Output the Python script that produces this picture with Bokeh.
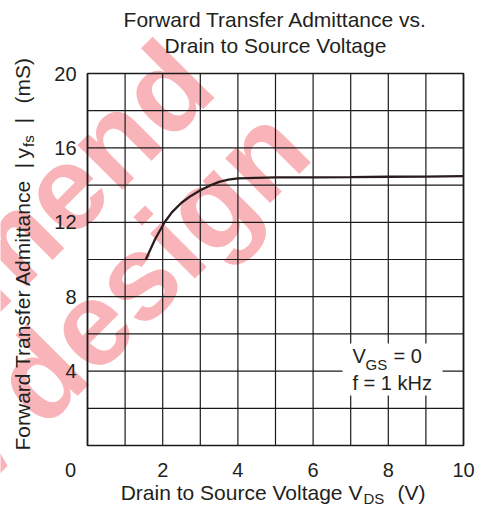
import math
from bokeh.plotting import figure
from bokeh.models import Range1d, Label, ColumnDataSource
from bokeh.core.properties import value
from bokeh.embed import file_html
from bokeh.resources import INLINE

# ---- data ----
vds = [1.55, 1.8, 2.05, 2.25, 2.5, 2.75, 3.0, 3.25, 3.5, 3.75, 4.0, 4.5, 5.0, 6.0, 7.0, 8.0, 9.0, 10.0]
yfs = [10.0, 11.1, 12.0, 12.55, 13.05, 13.42, 13.72, 13.97, 14.17, 14.3, 14.36, 14.39, 14.41,
       14.42, 14.43, 14.45, 14.46, 14.48]
x_ticks = [2, 4, 6, 8, 10]
y_ticks = [4, 8, 12, 16, 20]
x_grid = list(range(0, 11))
y_grid = list(range(0, 21, 2))
X_MIN, X_MAX = 0, 10
Y_MIN, Y_MAX = 0, 20

FONT = "Liberation Sans"
TXT = "#231f20"
LINE = "#1a1a1a"

# plot area in canvas pixels
L, R, T, B = 87, 463, 73, 445
W, H = 481, 506
sx = (R - L) / (X_MAX - X_MIN)
sy = (B - T) / (Y_MAX - Y_MIN)
K = 0.37  # baseline correction (fraction of font size)

def dx(px):
    return X_MIN + (px - L) / sx

def dy(py):
    return Y_MIN + (B - py) / sy

p = figure(width=W, height=H,
           x_range=Range1d(dx(0), dx(W)), y_range=Range1d(dy(H), dy(0)),
           min_border=0, min_border_left=0, min_border_right=0,
           min_border_top=0, min_border_bottom=0,
           x_axis_location=None, y_axis_location=None, title_location=None,
           toolbar_location=None, output_backend="svg")
p.grid.visible = False
p.outline_line_color = None
p.background_fill_color = "white"
p.border_fill_color = "white"

# watermark (drawn first, underneath everything)
WM = "#f9b4b9"
for txt, ex, ey in (("Not recommend", 190, 62), ("for new design", 286, 127)):
    p.add_layout(Label(x=dx(ex), y=dy(ey), text=txt, angle=math.pi / 4,
                       text_align="right", text_baseline="alphabetic",
                       text_font=FONT, text_font_style="bold", text_font_size="120px",
                       text_color=WM, level="image"))

# grid lines of the plot area
p.segment(x0=x_grid, y0=Y_MIN, x1=x_grid, y1=Y_MAX, line_color=LINE, line_width=1.2)
p.segment(x0=X_MIN, y0=y_grid, x1=X_MAX, y1=y_grid, line_color=LINE, line_width=1.2)
p.quad(left=X_MIN, right=X_MAX, bottom=Y_MIN, top=Y_MAX, fill_color=None,
       line_color=LINE, line_width=1.7)

# white box behind the condition annotation
p.quad(left=dx(342), right=dx(442), bottom=dy(395), top=dy(343),
       fill_color="white", line_color=None)

# curve
src = ColumnDataSource(dict(x=vds, y=yfs))
p.line("x", "y", source=src, line_color="#2a1c1c", line_width=2.3)

# tick labels
p.text(x=x_ticks, y=dy(477 - K * 20), text=[str(t) for t in x_ticks], text_align="center",
       text_baseline="alphabetic", text_font=value(FONT), text_font_size="20px",
       text_color=TXT)
p.text(x=dx(76), y=y_ticks, text=[str(t) for t in y_ticks], text_align="right",
       text_baseline="alphabetic", text_font=value(FONT),
       text_font_size="20px", text_color=TXT)
p.text(x=dx(70), y=dy(477 - K * 20), text=["0"], text_align="center",
       text_baseline="alphabetic", text_font=value(FONT), text_font_size="20px",
       text_color=TXT)

def lab(px, py, text, size=21, align="left", rotated=False):
    # px, py: wanted baseline position in canvas pixels
    if rotated:
        px = px - K * size
    else:
        py = py - K * size
    p.add_layout(Label(x=dx(px), y=dy(py), text=text, text_font=FONT,
                       text_font_size=f"{size}px", text_color=TXT, text_align=align,
                       text_baseline="alphabetic", angle=math.pi / 2 if rotated else 0.0))

# title
lab(275, 27, "Forward Transfer Admittance vs.", align="center")
lab(275, 52.7, "Drain to Source Voltage", align="center")

# x axis label
lab(342, 500, "Drain to Source Voltage", align="right")
lab(348, 500, "V")
lab(363, 503.5, "DS", size=15)
lab(397, 500, "(V)")

# y axis label (rotated)
lab(29.5, 450, "Forward Transfer Admittance", rotated=True)
lab(29.5, 165, "|", align="center", rotated=True)
lab(29.5, 158, "y", rotated=True)
lab(33.5, 146.5, "fs", size=15, rotated=True)
lab(29.5, 120, "|", align="center", rotated=True)
lab(29.5, 103, "(mS)", rotated=True)

# condition annotation
lab(352, 363, "V", size=20)
lab(365, 370, "GS", size=15)
lab(393, 363, "= 0", size=20)
lab(352, 390, "f = 1 kHz", size=20)

open("out.html", "w").write(file_html(p, INLINE))
